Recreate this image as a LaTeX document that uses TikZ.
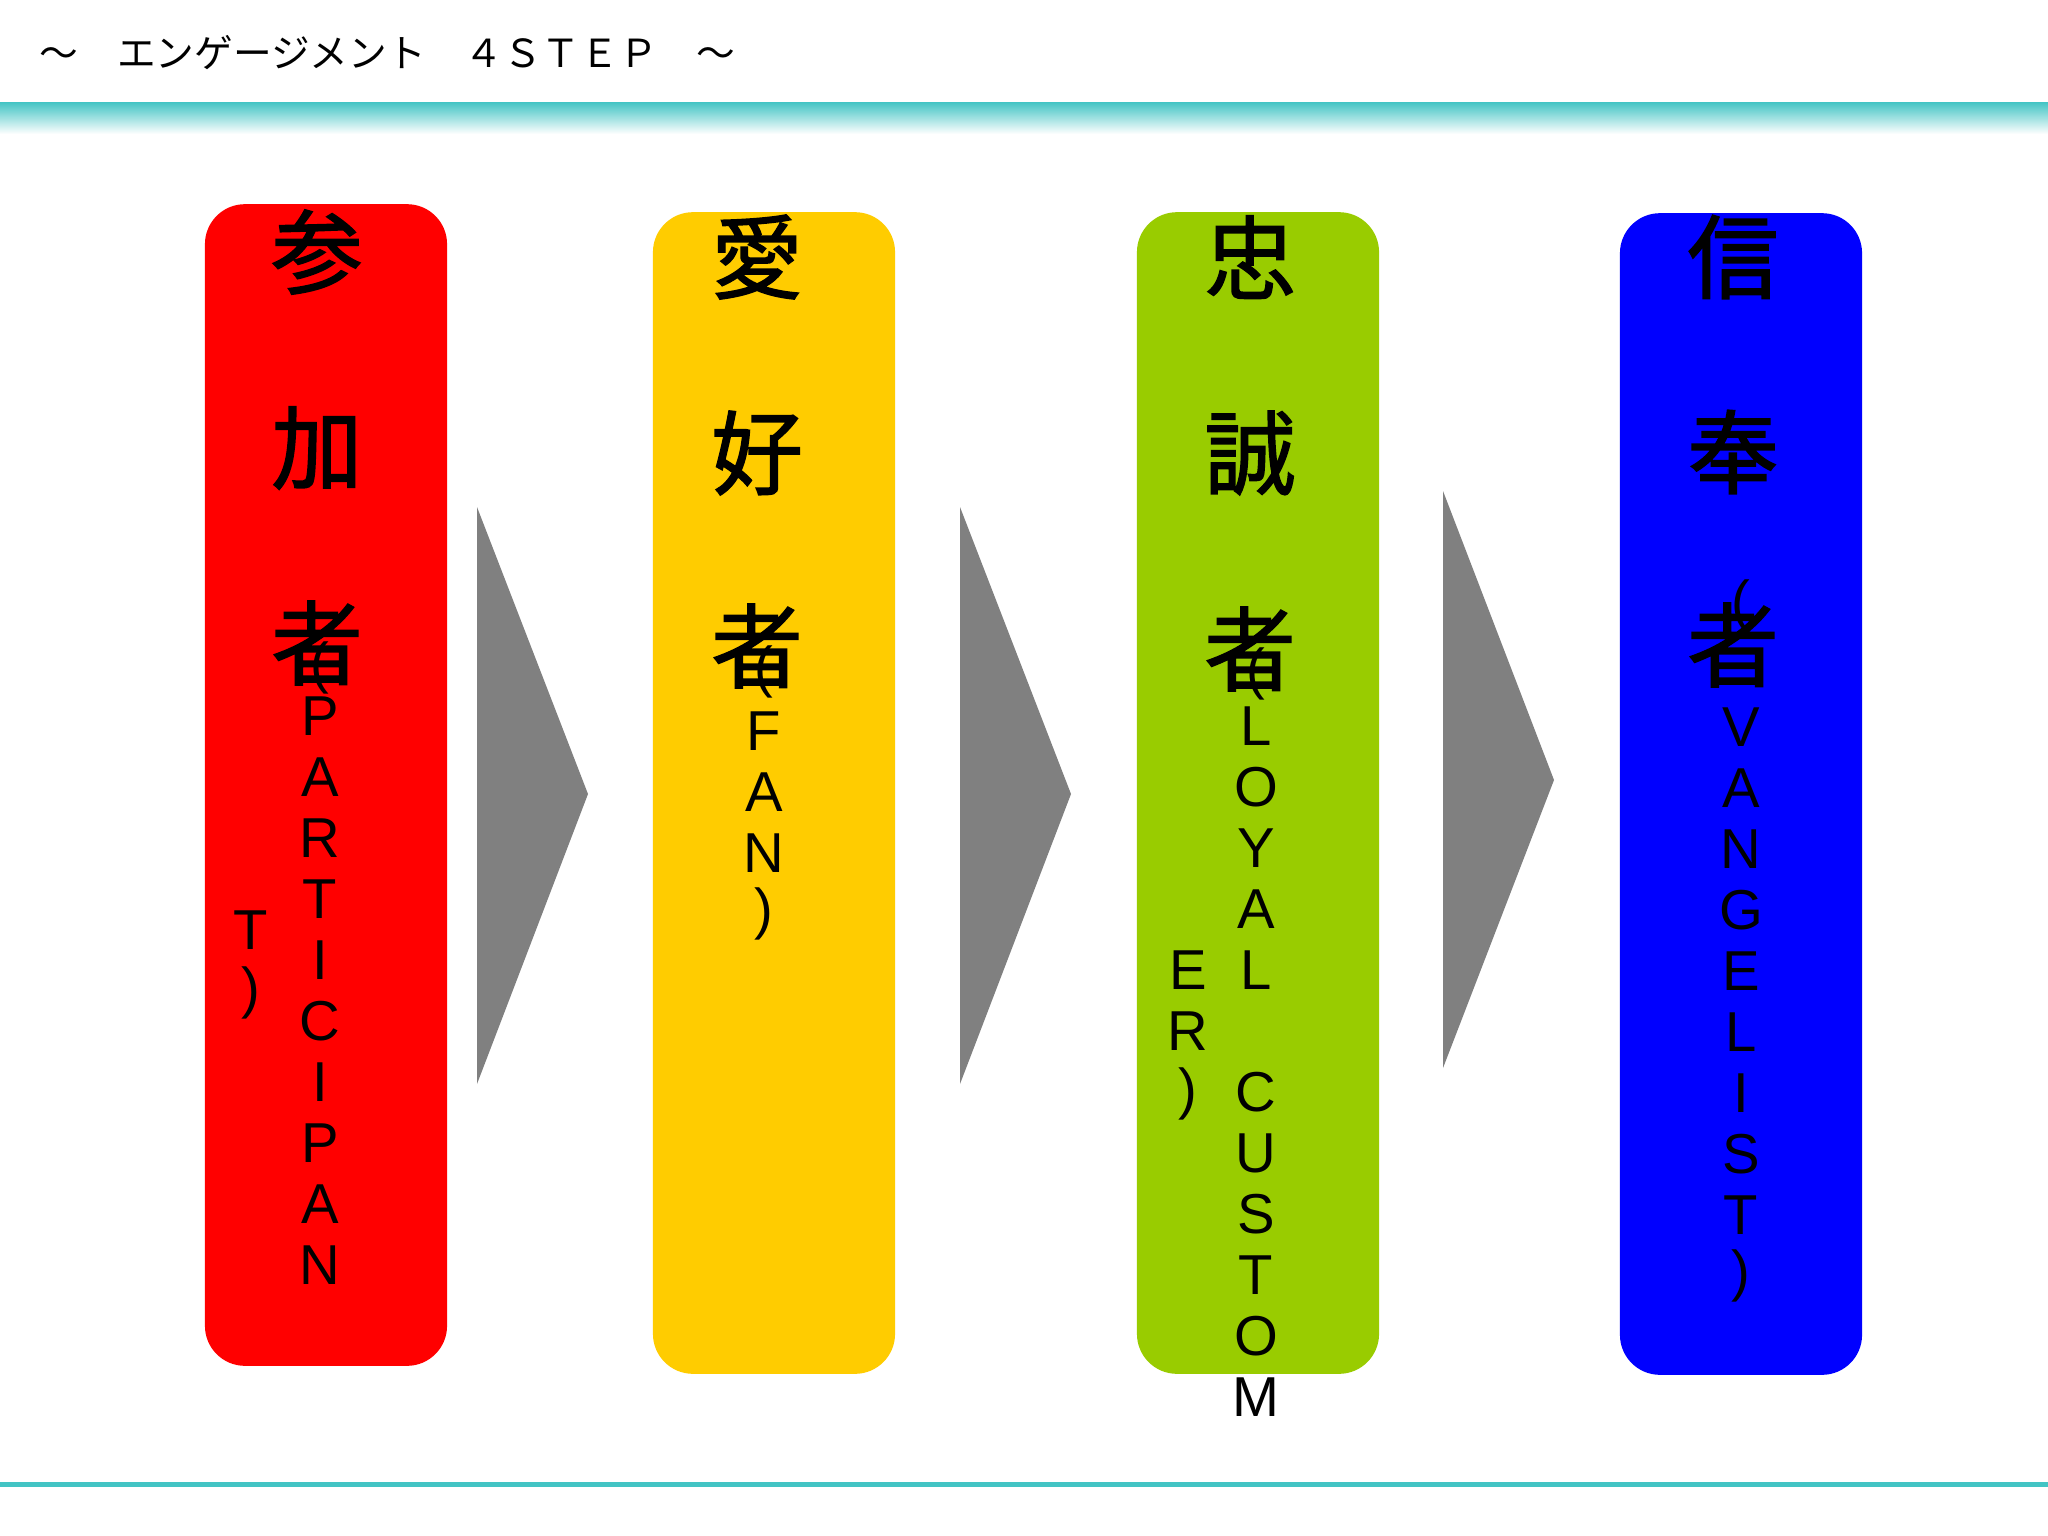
\documentclass[tikz,border=0pt]{standalone}
\usepackage{fontspec}
\setmainfont{Liberation Sans}
\newfontfamily\jpfont{Noto Sans CJK JP}
\newfontfamily\jpkanji[FakeBold=1.6]{Noto Sans CJK JP}
\usepackage{tikz}
\definecolor{boxred}{RGB}{255,0,0}
\definecolor{boxyellow}{RGB}{255,204,0}
\definecolor{boxgreen}{RGB}{153,204,0}
\definecolor{boxblue}{RGB}{0,0,255}
\definecolor{chevgray}{RGB}{128,128,128}
\definecolor{barteal}{RGB}{66,196,196}

\begin{document}
\begin{tikzpicture}[x=0.01cm, y=-0.01cm, every node/.style={inner sep=0pt},
    stepbox/.style={rectangle, rounded corners=0.4cm, minimum width=2.42cm, minimum height=11.61cm},
    kanji/.style={font=\jpkanji\fontsize{26}{26}\selectfont},
    latin/.style={font=\fontsize{16}{16}\selectfont}]

    \useasboundingbox (0,0) rectangle (2048,1536);
    \fill[white] (0,0) rectangle (2048,1536);

    \node[anchor=west, font=\jpfont\fontsize{11}{11}\selectfont] (title) at (39,53) {～　エンゲージメント　４ＳＴＥＰ　～};
    \shade[top color=barteal, bottom color=white] (0,102) rectangle (2048,134);
    \fill[barteal] (0,1482) rectangle (2048,1487);

    \node[stepbox, fill=boxred] (sanka) at (326,785) {};
    \node[stepbox, fill=boxyellow] (aikou) at (774,793) {};
    \node[stepbox, fill=boxgreen] (chusei) at (1258,793) {};
    \node[stepbox, fill=boxblue] (shinpou) at (1741,794) {};

    \fill[chevgray] (477,507) -- (588,794) -- (477,1084) -- cycle;
    \fill[chevgray] (960,507) -- (1071,794) -- (960,1084) -- cycle;
    \fill[chevgray] (1443,491) -- (1554,780) -- (1443,1068) -- cycle;

    \node[kanji] (san) at (317,252) {参};
    \node[kanji] (ka) at (317,448) {加};
    \node[kanji] (sha1) at (317,643) {者};
    \node[latin] (open1) at (320,668) {(};
    \foreach \ch [count=\i from 0] in {P,A,R,T,I,C,I,P,A,N}
        \node[latin] (part-\i) at (320,716+61*\i) {\ch};
    \node[latin] (part-t) at (251,930) {T};
    \node[latin] (close1) at (251,993) {)};

    \node[kanji] (ai) at (757,257) {愛};
    \node[kanji] (kou) at (757,453) {好};
    \node[kanji] (sha2) at (757,646) {者};
    \node[latin] (open2) at (764,672) {(};
    \foreach \ch [count=\i from 0] in {F,A,N,)}
        \node[latin] (fan-\i) at (764,731+61*\i) {\ch};

    \node[kanji] (chu) at (1250,257) {忠};
    \node[kanji] (sei) at (1250,453) {誠};
    \node[kanji] (sha3) at (1250,649) {者};
    \node[latin] (open3) at (1256,674) {(};
    \foreach \ch [count=\i from 0] in {L,O,Y,A,L,{},C,U,S,T,O,M}
        \node[latin] (loyal-\i) at (1256,726+61*\i) {\ch};
    \node[latin] (loyal-e) at (1188,970) {E};
    \node[latin] (loyal-r) at (1188,1031) {R};
    \node[latin] (close3) at (1188,1094) {)};

    \node[kanji] (shin) at (1733,257) {信};
    \node[kanji] (pou) at (1733,452) {奉};
    \node[kanji] (sha4) at (1733,645) {者};
    \node[latin] (open4) at (1741,606) {(};
    \foreach \ch [count=\i from 0] in {V,A,N,G,E,L,I,S,T,)}
        \node[latin] (evan-\i) at (1741,727+61*\i) {\ch};

\end{tikzpicture}
\end{document}
